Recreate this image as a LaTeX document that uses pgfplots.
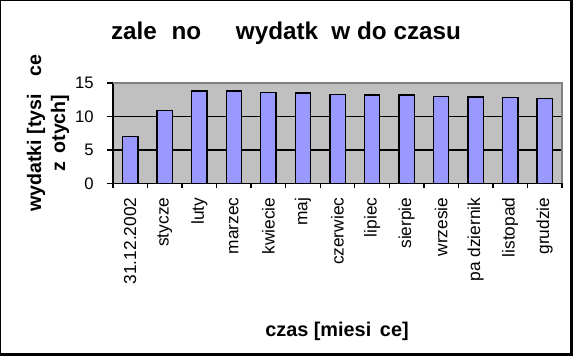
\documentclass[border=0pt]{standalone}
\usepackage{pgfplots}
\pgfplotsset{compat=1.18}
\usepackage{fontspec}
\setmainfont{Liberation Sans}
\definecolor{barfill}{RGB}{153,153,255}
\definecolor{plotbg}{RGB}{192,192,192}
\definecolor{plotborder}{RGB}{128,128,128}
\begin{document}
\begin{tikzpicture}[x=0.75pt,y=0.75pt]
\fill[black] (0,0) rectangle (573,356);
\fill[white] (1,3) rectangle (570,355);
\begin{axis}[
  at={(84.75pt,129.53pt)}, anchor=south west,
  scale only axis, width=336.75pt, height=75.2pt,
  xmin=-0.5, xmax=12.5, ymin=0, ymax=15,
  ybar, bar width=11.5pt, bar shift=0pt,
  axis background/.style={fill=plotbg},
  axis x line*=bottom, axis y line*=left,
  axis line style={black, line width=1pt, -},
  tick align=outside,
  major tick length=4.5pt, minor tick length=3.75pt,
  tick style={black, line width=1pt},
  major x tick style={draw=none},
  xtick={0,...,12},
  minor xtick={-0.5,0.5,...,12.5},
  xticklabels={31.12.2002\hspace{8pt}, stycze\hspace{10pt}, luty, marzec, kwiecie\hspace{10pt}, maj, czerwiec, lipiec, sierpie\hspace{10pt}, wrzesie\hspace{10pt}, pa dziernik, listopad, grudzie\hspace{10pt}},
  xticklabel style={yshift=-6pt, rotate=90, anchor=east, inner sep=0pt, font=\fontsize{13}{15}\selectfont},
  ytick={0,5,10,15},
  yticklabel style={anchor=east, inner sep=0pt, font=\fontsize{12.5}{14}\selectfont, xshift=-9.75pt},
  /pgf/number format/assume math mode=true,
  extra y ticks={5,10}, extra y tick labels={},
  extra y tick style={grid=major, major grid style={black, line width=1pt}, major tick length=0pt},
  clip=false,
]
\addplot[fill=barfill, draw=black, line width=1pt] coordinates {
(0,7.0) (1,10.9) (2,13.8) (3,13.8) (4,13.6) (5,13.5) (6,13.3) (7,13.2) (8,13.2) (9,13.0) (10,12.9) (11,12.8) (12,12.7)};
\draw[plotborder, line width=1pt] (rel axis cs:0,1) -- (rel axis cs:1,1) -- (rel axis cs:1,0);
\end{axis}
\node[anchor=base, inner sep=0pt, font=\fontsize{18.2}{21}\bfseries\selectfont] at (286,316) {zale\hspace{11pt}no\hspace{26pt}wydatk\hspace{10pt}w do czasu};
\node[anchor=base, inner sep=0pt, font=\fontsize{14.9}{17}\bfseries\selectfont] at (337,20) {czas [miesi\hspace{6.5pt}ce]};
\node[rotate=90, align=center, inner sep=0pt, font=\fontsize{14.7}{18}\bfseries\selectfont] at (48,223) {wydatki [tysi\hspace{13.5pt}ce\\z\hspace{6pt}otych]};
\end{tikzpicture}
\end{document}
